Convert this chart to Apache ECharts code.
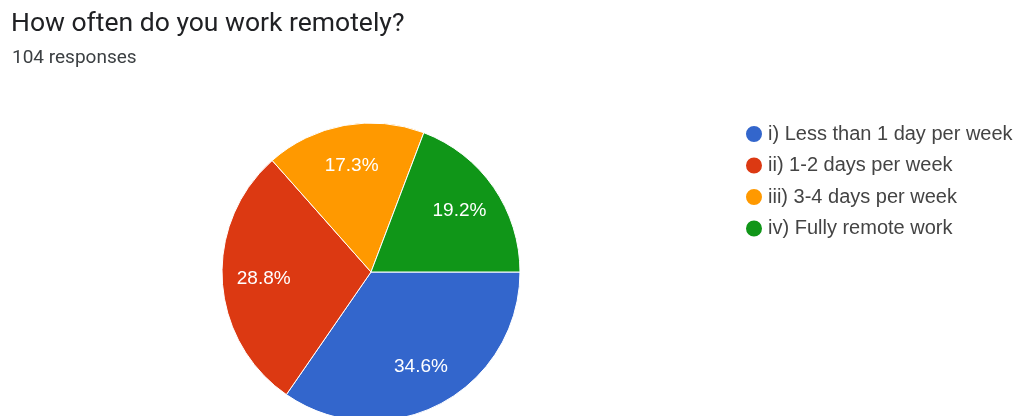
<!DOCTYPE html>
<html>
<head>
<meta charset="utf-8">
<script src="https://cdn.jsdelivr.net/npm/echarts@6/dist/echarts.min.js"></script>
<style>
  html, body { margin: 0; padding: 0; background: #fff; }
  #chart { width: 1022px; height: 416px; }
</style>
</head>
<body>
<div id="chart"></div>
<script>
// Survey question and response breakdown
const questionTitle = 'How often do you work remotely?';
const responseNote = '104 responses';
const categories = [
  'i) Less than 1 day per week',
  'ii) 1-2 days per week',
  'iii) 3-4 days per week',
  'iv) Fully remote work'
];
const counts = [36, 30, 18, 20];
const sliceColors = ['#3366cc', '#dc3912', '#ff9900', '#109618'];

const totalResponses = counts.reduce((a, b) => a + b, 0);
const pieData = categories.map((name, i) => ({ name, value: counts[i] }));

const chart = echarts.init(document.getElementById('chart'), null, { renderer: 'canvas' });

const pieCenter = [371, 272];
const pieRadius = 149;

chart.setOption({
  animation: false,
  color: sliceColors,
  title: [
    {
      text: questionTitle,
      left: 11,
      top: 11,
      padding: 0,
      textStyle: { fontFamily: 'Roboto', fontSize: 26.5, fontWeight: 'normal', color: '#202124' }
    },
    {
      text: responseNote,
      left: 12,
      top: 49,
      padding: 0,
      textStyle: { fontFamily: 'Roboto', fontSize: 19, fontWeight: 'normal', color: '#3c4043' }
    }
  ],
  legend: {
    orient: 'vertical',
    left: 744,
    top: 124,
    padding: 0,
    itemGap: 11.5,
    itemWidth: 18,
    itemHeight: 18,
    itemTextGap: 6,
    icon: 'circle',
    data: categories,
    textStyle: { fontFamily: 'Liberation Sans, Arial', fontSize: 20, color: '#444444', lineHeight: 20 }
  },
  series: [
    {
      type: 'pie',
      center: pieCenter,
      radius: [0, pieRadius],
      startAngle: 0,
      clockwise: true,
      silent: true,
      data: pieData,
      itemStyle: { borderColor: '#ffffff', borderWidth: 1 },
      label: { show: false },
      labelLine: { show: false },
      emphasis: { disabled: true }
    },
    {
      // transparent ring that places the percentage labels further out in each slice
      type: 'pie',
      center: pieCenter,
      radius: [60, pieRadius],
      startAngle: 0,
      clockwise: true,
      silent: true,
      data: pieData,
      itemStyle: { color: 'rgba(0,0,0,0)', borderWidth: 0 },
      label: {
        show: true,
        position: 'inside',
        formatter: p => (p.value / totalResponses * 100).toFixed(1) + '%',
        fontFamily: 'Liberation Sans, Arial',
        fontSize: 19,
        color: '#ffffff'
      },
      labelLine: { show: false },
      emphasis: { disabled: true }
    }
  ]
});
</script>
</body>
</html>
